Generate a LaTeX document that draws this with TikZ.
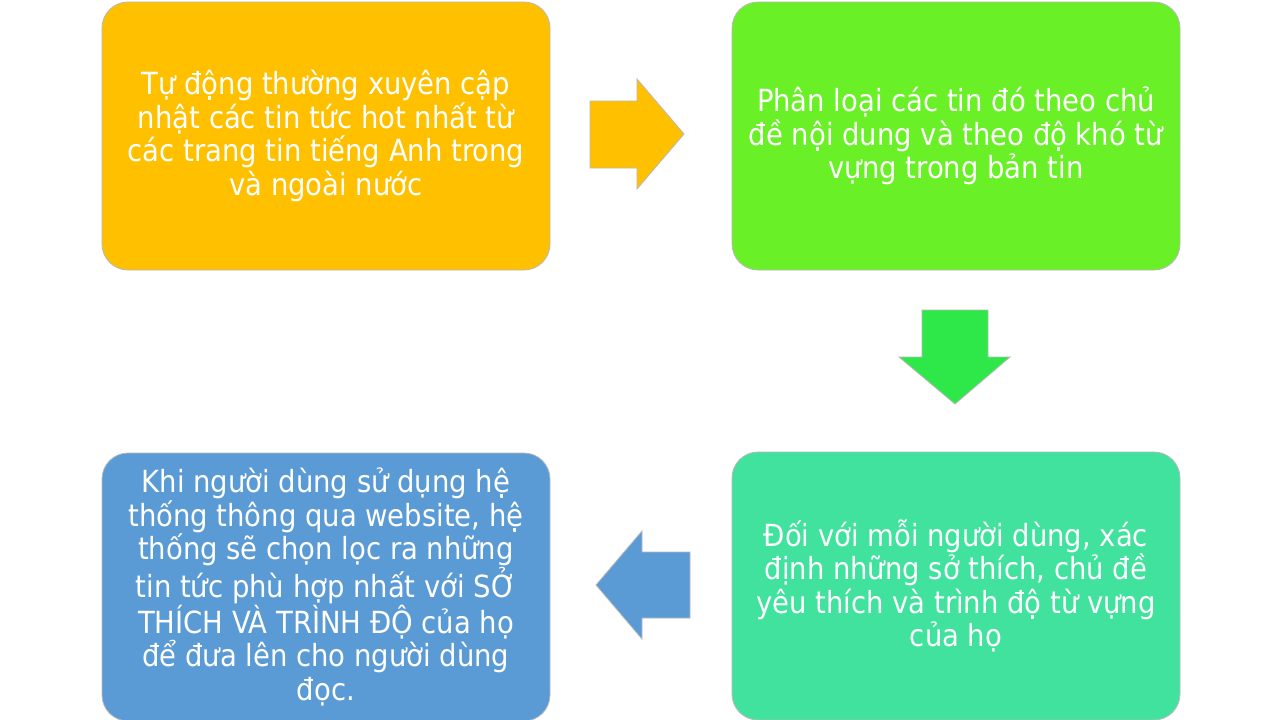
\documentclass[tikz,border=0pt]{standalone}
\usepackage{fontspec}
\setmainfont{DejaVu Sans Condensed}
\definecolor{cyellow}{HTML}{FFC000}
\definecolor{cgreen}{HTML}{69F026}
\definecolor{carrowg}{HTML}{2EE84A}
\definecolor{cteal}{HTML}{41E29E}
\definecolor{cblue}{HTML}{5B9BD5}
\definecolor{cedge}{HTML}{B8B8B8}
\begin{document}
\begin{tikzpicture}[x=1pt,y=-1pt,
  box/.style={draw=cedge, line width=0.8pt, rounded corners=26pt, minimum width=448pt, minimum height=268pt,
    text=white, align=center, inner sep=0pt,
    font=\fontsize{30.5}{33.6}\selectfont},
  arr/.style={draw=cedge, line width=0.8pt}]
\useasboundingbox[fill=white] (0,0) rectangle (1280,720);
\node[box, fill=cyellow] (b1) at (326,136) {Tự động thường xuyên cập\\nhật các tin tức hot nhất từ\\các trang tin tiếng Anh trong\\và ngoài nước};
\node[box, fill=cgreen] (b2) at (956,136) {Phân loại các tin đó theo chủ\\đề nội dung và theo độ khó từ\\vựng trong bản tin};
\node[box, fill=cteal] (b4) at (956,586) {Đối với mỗi người dùng, xác\\định những sở thích, chủ đề\\yêu thích và trình độ từ vựng\\của họ};
\node[box, fill=cblue] (b3) at (326,587) {Khi người dùng sử dụng hệ\\thống thông qua website, hệ\\thống sẽ chọn lọc ra những\\tin tức phù hợp nhất với SỞ\\THÍCH VÀ TRÌNH ĐỘ của họ\\để đưa lên cho người dùng\\đọc.};
% right arrow
\draw[arr, fill=cyellow] (590,101) -- (637,101) -- (637,79) -- (684,134) -- (637,189) -- (637,168) -- (590,168) -- cycle;
% down arrow
\draw[arr, fill=carrowg] (922,310) -- (988,310) -- (988,357) -- (1010,357) -- (955,404) -- (899,357) -- (922,357) -- cycle;
% left arrow
\draw[arr, fill=cblue] (690,552) -- (642,552) -- (642,531) -- (596,585) -- (642,639) -- (642,618) -- (690,618) -- cycle;
\end{tikzpicture}
\end{document}
